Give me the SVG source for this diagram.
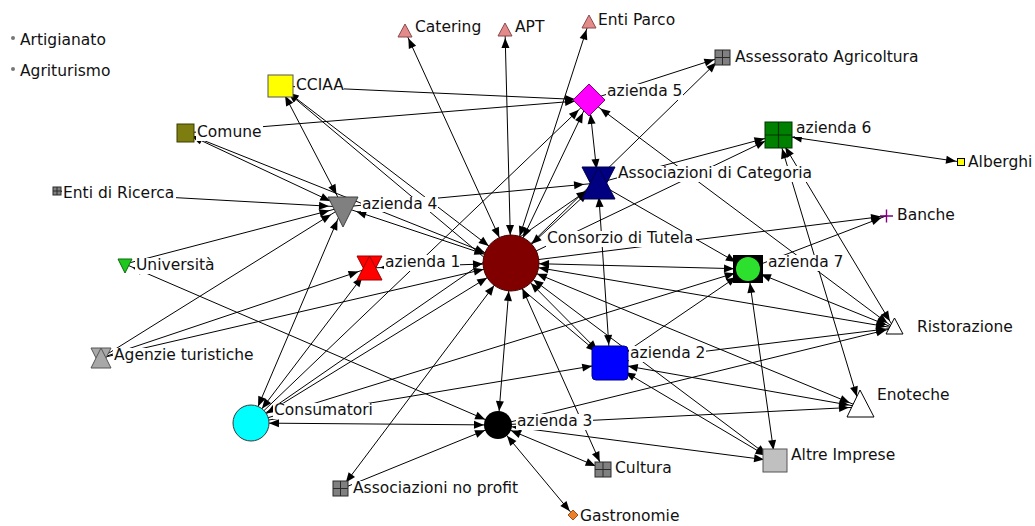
<svg xmlns="http://www.w3.org/2000/svg" width="1035" height="526" viewBox="0 0 1035 526">
<style>
  .e{stroke:#000;stroke-width:1;fill:none}
  .lb{fill:#fff}
  text{font-family:"DejaVu Sans","Liberation Sans",sans-serif;font-size:15.5px;fill:#111}
  .grid{stroke:#2a2a2a;stroke-width:1;fill:none}
  .ah{fill:#000}
</style>
<defs>
  <!-- arrowheads: eNN at line end, sNN at line start; NN = distance kept from the node centre -->
  <marker id="e28" markerUnits="userSpaceOnUse" markerWidth="10" markerHeight="8" refX="38" refY="4" orient="auto" overflow="visible"><path class="ah" d="M0,0L10,4L0,8z"/></marker>
  <marker id="e18" markerUnits="userSpaceOnUse" markerWidth="10" markerHeight="8" refX="28" refY="4" orient="auto" overflow="visible"><path class="ah" d="M0,0L10,4L0,8z"/></marker>
  <marker id="e14" markerUnits="userSpaceOnUse" markerWidth="10" markerHeight="8" refX="24" refY="4" orient="auto" overflow="visible"><path class="ah" d="M0,0L10,4L0,8z"/></marker>
  <marker id="e11" markerUnits="userSpaceOnUse" markerWidth="10" markerHeight="8" refX="21" refY="4" orient="auto" overflow="visible"><path class="ah" d="M0,0L10,4L0,8z"/></marker>
  <marker id="e8" markerUnits="userSpaceOnUse" markerWidth="10" markerHeight="8" refX="18" refY="4" orient="auto" overflow="visible"><path class="ah" d="M0,0L10,4L0,8z"/></marker>
  <marker id="e5" markerUnits="userSpaceOnUse" markerWidth="10" markerHeight="8" refX="15" refY="4" orient="auto" overflow="visible"><path class="ah" d="M0,0L10,4L0,8z"/></marker>
  <marker id="s28" markerUnits="userSpaceOnUse" markerWidth="10" markerHeight="8" refX="38" refY="4" orient="auto-start-reverse" overflow="visible"><path class="ah" d="M0,0L10,4L0,8z"/></marker>
  <marker id="s18" markerUnits="userSpaceOnUse" markerWidth="10" markerHeight="8" refX="28" refY="4" orient="auto-start-reverse" overflow="visible"><path class="ah" d="M0,0L10,4L0,8z"/></marker>
  <marker id="s14" markerUnits="userSpaceOnUse" markerWidth="10" markerHeight="8" refX="24" refY="4" orient="auto-start-reverse" overflow="visible"><path class="ah" d="M0,0L10,4L0,8z"/></marker>
  <marker id="s11" markerUnits="userSpaceOnUse" markerWidth="10" markerHeight="8" refX="21" refY="4" orient="auto-start-reverse" overflow="visible"><path class="ah" d="M0,0L10,4L0,8z"/></marker>
  <marker id="s8" markerUnits="userSpaceOnUse" markerWidth="10" markerHeight="8" refX="18" refY="4" orient="auto-start-reverse" overflow="visible"><path class="ah" d="M0,0L10,4L0,8z"/></marker>
</defs>

<rect width="1035" height="526" fill="#fff"/>

<g id="connectors">
  <line class="e" x1="405" y1="31" x2="511" y2="263" marker-start="url(#s8)" marker-end="url(#e28)"/>
  <line class="e" x1="505" y1="30" x2="511" y2="263" marker-start="url(#s8)" marker-end="url(#e28)"/>
  <line class="e" x1="589" y1="22" x2="511" y2="263" marker-start="url(#s8)" marker-end="url(#e28)"/>
  <line class="e" x1="280" y1="86" x2="589" y2="100" marker-end="url(#e14)"/>
  <line class="e" x1="185" y1="133" x2="589" y2="100" marker-end="url(#e14)"/>
  <line class="e" x1="280" y1="86" x2="343" y2="207" marker-start="url(#s11)" marker-end="url(#e14)"/>
  <line class="e" x1="280" y1="86" x2="511" y2="263" marker-start="url(#s11)" marker-end="url(#e28)"/>
  <line class="e" x1="280" y1="86" x2="610" y2="363" marker-start="url(#s11)" marker-end="url(#e18)"/>
  <line class="e" x1="185" y1="133" x2="343" y2="207" marker-start="url(#s8)" marker-end="url(#e14)"/>
  <line class="e" x1="185" y1="133" x2="511" y2="263" marker-start="url(#s8)" marker-end="url(#e28)"/>
  <line class="e" x1="57" y1="191" x2="343" y2="207" marker-end="url(#e14)"/>
  <line class="e" x1="125" y1="264" x2="343" y2="207" marker-end="url(#e14)"/>
  <line class="e" x1="125" y1="264" x2="498" y2="425" marker-start="url(#s8)" marker-end="url(#e14)"/>
  <line class="e" x1="101" y1="358" x2="343" y2="207" marker-end="url(#e14)"/>
  <line class="e" x1="101" y1="358" x2="369" y2="268" marker-end="url(#e11)"/>
  <line class="e" x1="101" y1="358" x2="511" y2="263" marker-end="url(#e28)"/>
  <line class="e" x1="251" y1="423" x2="343" y2="207" marker-start="url(#s18)" marker-end="url(#e14)"/>
  <line class="e" x1="251" y1="423" x2="369" y2="268" marker-start="url(#s18)" marker-end="url(#e11)"/>
  <line class="e" x1="251" y1="423" x2="589" y2="100" marker-end="url(#e14)"/>
  <line class="e" x1="251" y1="423" x2="511" y2="263" marker-start="url(#s18)" marker-end="url(#e28)"/>
  <line class="e" x1="251" y1="423" x2="748" y2="269" marker-end="url(#e14)"/>
  <line class="e" x1="251" y1="423" x2="610" y2="363" marker-end="url(#e18)"/>
  <line class="e" x1="251" y1="423" x2="498" y2="425" marker-start="url(#s18)" marker-end="url(#e14)"/>
  <line class="e" x1="251" y1="423" x2="598" y2="183" marker-end="url(#e14)"/>
  <line class="e" x1="343" y1="207" x2="598" y2="183" marker-end="url(#e14)"/>
  <line class="e" x1="511" y1="263" x2="343" y2="207" marker-start="url(#s28)" marker-end="url(#e14)"/>
  <line class="e" x1="511" y1="263" x2="369" y2="268" marker-start="url(#s28)" marker-end="url(#e11)"/>
  <line class="e" x1="511" y1="263" x2="589" y2="100" marker-start="url(#s28)" marker-end="url(#e14)"/>
  <line class="e" x1="589" y1="100" x2="598" y2="183" marker-start="url(#s14)" marker-end="url(#e14)"/>
  <line class="e" x1="511" y1="263" x2="598" y2="183" marker-start="url(#s28)" marker-end="url(#e14)"/>
  <line class="e" x1="598" y1="183" x2="610" y2="363" marker-start="url(#s14)" marker-end="url(#e18)"/>
  <line class="e" x1="598" y1="183" x2="748" y2="269" marker-end="url(#e14)"/>
  <line class="e" x1="598" y1="183" x2="778" y2="135" marker-end="url(#e14)"/>
  <line class="e" x1="511" y1="263" x2="778" y2="135" marker-end="url(#e14)"/>
  <line class="e" x1="589" y1="100" x2="722" y2="57" marker-end="url(#e8)"/>
  <line class="e" x1="511" y1="263" x2="722" y2="57" marker-end="url(#e8)"/>
  <line class="e" x1="778" y1="135" x2="961" y2="162" marker-start="url(#s14)" marker-end="url(#e5)"/>
  <line class="e" x1="778" y1="135" x2="860" y2="407" marker-start="url(#s14)" marker-end="url(#e11)"/>
  <line class="e" x1="778" y1="135" x2="894" y2="328" marker-start="url(#s14)" marker-end="url(#e8)"/>
  <line class="e" x1="589" y1="100" x2="894" y2="328" marker-start="url(#s14)" marker-end="url(#e8)"/>
  <line class="e" x1="511" y1="263" x2="748" y2="269" marker-start="url(#s28)" marker-end="url(#e14)"/>
  <line class="e" x1="511" y1="263" x2="886" y2="216" marker-end="url(#e5)"/>
  <line class="e" x1="748" y1="269" x2="886" y2="216" marker-end="url(#e5)"/>
  <line class="e" x1="748" y1="269" x2="894" y2="328" marker-start="url(#s14)" marker-end="url(#e8)"/>
  <line class="e" x1="748" y1="269" x2="775" y2="461" marker-start="url(#s14)" marker-end="url(#e11)"/>
  <line class="e" x1="610" y1="363" x2="748" y2="269" marker-end="url(#e14)"/>
  <line class="e" x1="610" y1="363" x2="894" y2="328" marker-end="url(#e8)"/>
  <line class="e" x1="610" y1="363" x2="860" y2="407" marker-start="url(#s18)" marker-end="url(#e11)"/>
  <line class="e" x1="610" y1="363" x2="775" y2="461" marker-start="url(#s18)" marker-end="url(#e11)"/>
  <line class="e" x1="511" y1="263" x2="610" y2="363" marker-start="url(#s28)" marker-end="url(#e18)"/>
  <line class="e" x1="511" y1="263" x2="860" y2="407" marker-start="url(#s28)" marker-end="url(#e11)"/>
  <line class="e" x1="511" y1="263" x2="894" y2="328" marker-start="url(#s28)" marker-end="url(#e8)"/>
  <line class="e" x1="511" y1="263" x2="775" y2="461" marker-start="url(#s28)" marker-end="url(#e11)"/>
  <line class="e" x1="511" y1="263" x2="498" y2="425" marker-start="url(#s28)" marker-end="url(#e14)"/>
  <line class="e" x1="511" y1="263" x2="603" y2="469" marker-start="url(#s28)" marker-end="url(#e8)"/>
  <line class="e" x1="511" y1="263" x2="341" y2="489" marker-start="url(#s28)" marker-end="url(#e8)"/>
  <line class="e" x1="341" y1="489" x2="498" y2="425" marker-end="url(#e14)"/>
  <line class="e" x1="498" y1="425" x2="603" y2="469" marker-start="url(#s14)" marker-end="url(#e8)"/>
  <line class="e" x1="498" y1="425" x2="573" y2="515" marker-start="url(#s14)" marker-end="url(#e5)"/>
  <line class="e" x1="498" y1="425" x2="775" y2="461" marker-start="url(#s14)" marker-end="url(#e11)"/>
  <line class="e" x1="498" y1="425" x2="860" y2="407" marker-end="url(#e11)"/>
  <line class="e" x1="498" y1="425" x2="894" y2="328" marker-end="url(#e8)"/>
</g>

<g id="n-artigianato">
  <circle cx="13" cy="38" r="2" fill="#777"/>
  <text x="20" y="45">Artigianato</text>
</g>
<g id="n-agriturismo">
  <circle cx="13" cy="69" r="2" fill="#777"/>
  <text x="20" y="76">Agriturismo</text>
</g>
<g id="n-catering">
  <rect class="lb" x="414" y="20" width="68" height="16"/>
  <text x="415" y="32">Catering</text>
  <polygon points="398,37 412,37 405,24" fill="#e38a8a" stroke="#8a4a4a"/>
</g>
<g id="n-apt">
  <rect class="lb" x="514" y="20" width="31" height="16"/>
  <text x="515" y="32">APT</text>
  <polygon points="498,36 512,36 505,23" fill="#e38a8a" stroke="#8a4a4a"/>
</g>
<g id="n-enti-parco">
  <rect class="lb" x="597" y="13" width="80" height="16"/>
  <text x="598" y="25">Enti Parco</text>
  <polygon points="582,28 596,28 589,15" fill="#e38a8a" stroke="#8a4a4a"/>
</g>
<g id="n-assessorato">
  <rect class="lb" x="734" y="50" width="186" height="16"/>
  <text x="735" y="62">Assessorato Agricoltura</text>
  <rect x="715" y="50" width="15" height="15" fill="#808080" stroke="#2a2a2a"/>
  <path class="grid" d="M722.5,50V65M715,57.5H730"/>
</g>
<g id="n-cciaa">
  <rect class="lb" x="295" y="78" width="49" height="16"/>
  <text x="296" y="90">CCIAA</text>
  <rect x="268" y="75" width="25" height="22" fill="#ffff00" stroke="#555"/>
</g>
<g id="n-comune">
  <rect class="lb" x="196" y="125" width="67" height="16"/>
  <text x="197" y="137">Comune</text>
  <rect x="177" y="124" width="17" height="18" fill="#7d7d10" stroke="#3d3d00"/>
</g>
<g id="n-azienda5">
  <rect class="lb" x="606" y="84" width="77" height="16"/>
  <text x="607" y="96">azienda 5</text>
  <polygon points="589,84 605,100 589,116 573,100" fill="#ff00ff" stroke="#800080"/>
</g>
<g id="n-azienda6">
  <rect class="lb" x="795" y="121" width="77" height="16"/>
  <text x="796" y="133">azienda 6</text>
  <rect x="765" y="122" width="27" height="26" fill="#008000" stroke="#003300"/>
  <path d="M778.5,122V148M765,135H792" stroke="#003300" stroke-width="1.2" fill="none"/>
</g>
<g id="n-alberghi">
  <rect class="lb" x="967" y="155" width="67" height="16"/>
  <text x="968" y="167">Alberghi</text>
  <rect x="957.5" y="158.5" width="7" height="7" fill="#ffff00" stroke="#000"/>
</g>
<g id="n-assoc-categoria">
  <rect class="lb" x="617" y="166" width="196" height="16"/>
  <text x="618" y="178">Associazioni di Categoria</text>
  <polygon points="582,167 615,167 598.5,199" fill="#000080" stroke="#00004a"/>
  <polygon points="582,199 615,199 598.5,167" fill="#000080" stroke="#00004a"/>
</g>
<g id="n-enti-ricerca">
  <rect class="lb" x="62" y="186" width="114" height="16"/>
  <text x="63" y="198">Enti di Ricerca</text>
  <rect x="53" y="187" width="8" height="8" fill="#808080" stroke="#2a2a2a"/>
  <path class="grid" d="M57,187V195M53,191H61"/>
</g>
<g id="n-azienda4">
  <rect class="lb" x="361" y="197" width="77" height="15"/>
  <text x="362" y="209">azienda 4</text>
  <polygon points="328,197 358,197 343,227" fill="#808080" stroke="#404040"/>
</g>
<g id="n-banche">
  <rect class="lb" x="896" y="208" width="60" height="16"/>
  <text x="897" y="220">Banche</text>
  <path d="M880,216H893M886.5,209.5V222.5" stroke="#800080" stroke-width="1.4" fill="none"/>
</g>
<g id="n-consorzio">
  <rect class="lb" x="546" y="231" width="150" height="16"/>
  <text x="547" y="243">Consorzio di Tutela</text>
  <circle cx="511" cy="263" r="28" fill="#800000" stroke="#4a0000"/>
</g>
<g id="n-azienda1">
  <rect class="lb" x="384" y="255" width="76" height="16"/>
  <text x="385" y="267">azienda 1</text>
  <polygon points="357,256 382,256 369.5,280" fill="#ff0000" stroke="#a00000"/>
  <polygon points="357,280 382,280 369.5,256" fill="#ff0000" stroke="#a00000"/>
</g>
<g id="n-universita">
  <rect class="lb" x="135" y="258" width="81" height="16"/>
  <text x="136" y="270">Università</text>
  <polygon points="118,259 132,259 125,273" fill="#1ec81e" stroke="#0a6a0a"/>
</g>
<g id="n-azienda7">
  <rect class="lb" x="767" y="255" width="77" height="16"/>
  <text x="768" y="267">azienda 7</text>
  <rect x="733" y="255" width="30" height="28" fill="#000"/>
  <circle cx="748" cy="269" r="12" fill="#2de02d"/>
</g>
<g id="n-ristorazione">
  <rect class="lb" x="916" y="320" width="98" height="16"/>
  <text x="917" y="332">Ristorazione</text>
  <polygon points="886,334 903,334 894.5,318" fill="#fff" stroke="#000"/>
</g>
<g id="n-agenzie">
  <rect class="lb" x="113" y="348" width="142" height="16"/>
  <text x="114" y="360">Agenzie turistiche</text>
  <polygon points="91,348 111,348 101,368" fill="#a8a8a8" stroke="#555"/>
  <polygon points="91,368 111,368 101,348" fill="#a8a8a8" stroke="#555"/>
</g>
<g id="n-azienda2">
  <rect class="lb" x="629" y="346" width="77" height="16"/>
  <text x="630" y="358">azienda 2</text>
  <rect x="592" y="346" width="36" height="34" rx="4" fill="#0000ff" stroke="#00008b"/>
</g>
<g id="n-enoteche">
  <rect class="lb" x="876" y="388" width="75" height="16"/>
  <text x="877" y="400">Enoteche</text>
  <polygon points="847,417 874,417 860,390" fill="#fff" stroke="#000"/>
</g>
<g id="n-consumatori">
  <rect class="lb" x="273" y="403" width="101" height="16"/>
  <text x="274" y="415">Consumatori</text>
  <circle cx="251" cy="423" r="18" fill="#00ffff" stroke="#3a3a3a"/>
</g>
<g id="n-azienda3">
  <rect class="lb" x="516" y="414" width="77" height="16"/>
  <text x="517" y="426">azienda 3</text>
  <circle cx="498" cy="425" r="14" fill="#000"/>
</g>
<g id="n-altre-imprese">
  <rect class="lb" x="790" y="448" width="107" height="16"/>
  <text x="791" y="460">Altre Imprese</text>
  <rect x="763" y="449" width="24" height="23" fill="#c0c0c0" stroke="#555"/>
</g>
<g id="n-cultura">
  <rect class="lb" x="614" y="461" width="59" height="16"/>
  <text x="615" y="473">Cultura</text>
  <rect x="595" y="462" width="16" height="15" fill="#808080" stroke="#2a2a2a"/>
  <path class="grid" d="M603,462V477M595,469.5H611"/>
</g>
<g id="n-assoc-no-profit">
  <rect class="lb" x="352" y="481" width="167" height="16"/>
  <text x="353" y="493">Associazioni no profit</text>
  <rect x="333" y="481" width="15" height="15" fill="#808080" stroke="#2a2a2a"/>
  <path class="grid" d="M340.5,481V496M333,488.5H348"/>
</g>
<g id="n-gastronomie">
  <rect class="lb" x="579" y="509" width="102" height="16"/>
  <text x="580" y="521">Gastronomie</text>
  <polygon points="573,510 578,515 573,520 568,515" fill="#e8802c" stroke="#a05010"/>
</g>
</svg>
